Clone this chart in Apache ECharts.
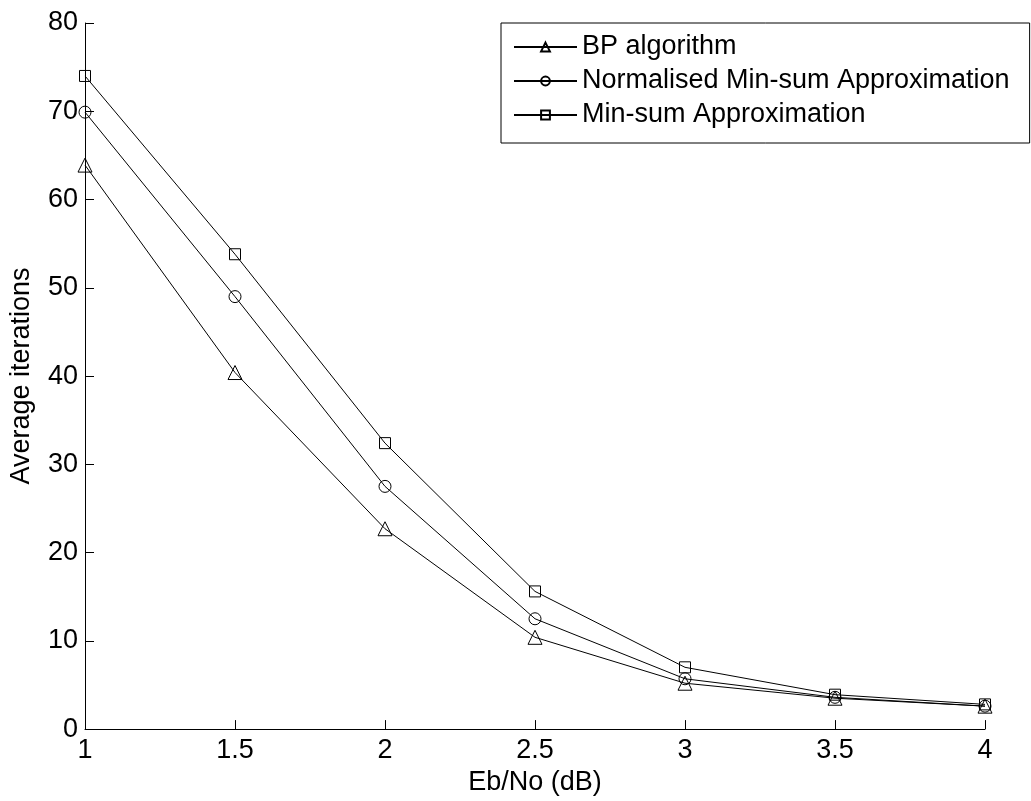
<!DOCTYPE html>
<html>
<head>
<meta charset="utf-8">
<script src="https://cdn.jsdelivr.net/npm/echarts@6/dist/echarts.min.js"></script>
<style>
  html, body { margin: 0; padding: 0; background: #fff; }
  #chart { width: 1031px; height: 801px; }
</style>
</head>
<body>
<div id="chart"></div>
<script>
// Eb/No (dB)
const ebno = [1, 1.5, 2, 2.5, 3, 3.5, 4];
// average iterations per decoder
const bpAlgorithm = [63.9, 40.4, 22.7, 10.4, 5.2, 3.5, 2.6];
const normMinSum = [69.9, 49.0, 27.5, 12.5, 5.7, 3.6, 2.6];
const minSum = [74.0, 53.8, 32.4, 15.6, 7.0, 3.9, 2.8];

const seriesNames = ['BP algorithm', 'Normalised Min-sum Approximation', 'Min-sum Approximation'];

const font = 'Liberation Sans, Arial, Helvetica, sans-serif';

const chart = echarts.init(document.getElementById('chart'));

function makeSeries(name, values, symbol, size) {
  return {
    name: name,
    type: 'line',
    data: ebno.map((x, i) => [x, values[i]]),
    symbol: symbol,
    symbolSize: size,
    showAllSymbol: true,
    lineStyle: { color: '#000', width: 1 },
    itemStyle: { color: 'transparent', borderColor: '#000', borderWidth: 1 },
    emphasis: { disabled: true },
    animation: false
  };
}

const option = {
  backgroundColor: '#fff',
  animation: false,
  grid: { left: 85, right: 46, top: 23, bottom: 69, containLabel: false },
  legend: {
    orient: 'vertical',
    left: 501,
    top: 23,
    padding: [9, 20, 13, 12],
    borderColor: '#000',
    borderWidth: 1,
    backgroundColor: '#fff',
    itemWidth: 63,
    itemHeight: 11,
    itemGap: 4,
    textStyle: { fontFamily: font, fontSize: 27, color: '#000', lineHeight: 30 },
    data: seriesNames
  },
  xAxis: {
    type: 'value',
    min: 1,
    max: 4,
    interval: 0.5,
    name: 'Eb/No (dB)',
    nameLocation: 'middle',
    nameGap: 37,
    nameTextStyle: { fontFamily: font, fontSize: 27, color: '#000' },
    axisLine: { lineStyle: { color: '#000', width: 1 } },
    axisTick: { inside: true, length: 9, lineStyle: { color: '#000' } },
    axisLabel: { fontFamily: font, fontSize: 27, color: '#000', margin: 8 },
    splitLine: { show: false }
  },
  yAxis: {
    type: 'value',
    min: 0,
    max: 80,
    interval: 10,
    name: 'Average iterations',
    nameLocation: 'middle',
    nameGap: 50,
    nameTextStyle: { fontFamily: font, fontSize: 27, color: '#000' },
    axisLine: { show: true, lineStyle: { color: '#000', width: 1 } },
    axisTick: { show: true, inside: true, length: 9, lineStyle: { color: '#000' } },
    axisLabel: { fontFamily: font, fontSize: 27, color: '#000', margin: 7 },
    splitLine: { show: false }
  },
  series: [
    makeSeries(seriesNames[0], bpAlgorithm, 'triangle', 14),
    makeSeries(seriesNames[1], normMinSum, 'circle', 12),
    makeSeries(seriesNames[2], minSum, 'rect', 11)
  ]
};

chart.setOption(option);
</script>
</body>
</html>
